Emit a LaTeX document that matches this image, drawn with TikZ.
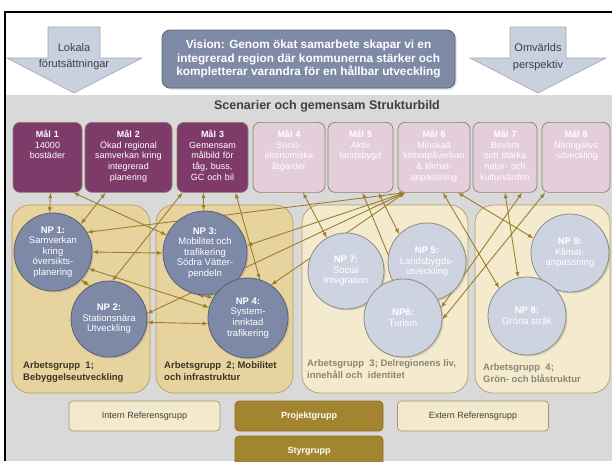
\documentclass[tikz,border=0pt]{standalone}
\usepackage{fontspec}
\setmainfont{Liberation Sans}
\usetikzlibrary{arrows,shadows}
\definecolor{bggray}{HTML}{D9D9D9}
\definecolor{arrowfill}{HTML}{C9D0E0}
\definecolor{arrowline}{HTML}{A6A6A6}
\definecolor{txtgray}{HTML}{3F3F3F}
\definecolor{visionfill}{HTML}{7F8AA7}
\definecolor{visionline}{HTML}{5D6679}
\definecolor{malplum}{HTML}{7E3A68}
\definecolor{malpink}{HTML}{E5CEDB}
\definecolor{malline}{HTML}{8E7E70}
\definecolor{agtan}{HTML}{E7D39E}
\definecolor{agcream}{HTML}{F4EBCF}
\definecolor{agline}{HTML}{B59D62}
\definecolor{npslate}{HTML}{7D89A7}
\definecolor{npslateline}{HTML}{5B6172}
\definecolor{nplight}{HTML}{CDD3E1}
\definecolor{nplightline}{HTML}{8F8D7E}
\definecolor{conline}{HTML}{9C7F2C}
\definecolor{refcream}{HTML}{F3E9CD}
\definecolor{refline}{HTML}{A89467}
\definecolor{projgold}{HTML}{A3842F}
\definecolor{projline}{HTML}{8C7028}
\definecolor{agdarktext}{HTML}{3C3527}
\definecolor{aglighttext}{HTML}{8C8574}
\pgfdeclarelayer{back}
\pgfdeclarelayer{links}
\pgfsetlayers{back,links,main}

\begin{document}
\begin{tikzpicture}[x=1pt,y=-1pt,>=latex,
        bigarrow/.style={fill=arrowfill, draw=arrowline, line width=0.6pt},
        arrowtext/.style={text=txtgray, font=\fontsize{11}{13}\selectfont},
        visionbox/.style={rectangle, rounded corners=8pt, draw=visionline, fill=visionfill, line width=0.8pt, text=white, align=center, font=\bfseries\fontsize{11.8}{13.6}\selectfont, minimum width=293pt, minimum height=58pt, drop shadow={opacity=0.3, shadow xshift=1.5pt, shadow yshift=-1.5pt}},
        malbox/.style={rectangle, rounded corners=7pt, draw=malline, line width=0.7pt, anchor=north, minimum width=#1pt, text width=#1pt-4pt, minimum height=70pt, inner xsep=1pt, inner ysep=3pt, text height=12pt, text depth=52pt, align=center, text=white, font=\fontsize{9}{10.8}\selectfont},
        malplumbox/.style={malbox=#1, fill=malplum},
        malpinkbox/.style={malbox=#1, fill=malpink},
        agpanel/.style={rectangle, rounded corners=18pt, draw=agline, line width=0.7pt, minimum height=188pt},
        aglabel/.style={anchor=north west, align=left, inner sep=0pt, font=\bfseries\fontsize{9.5}{12}\selectfont},
        npdark/.style={circle, draw=npslateline, fill=npslate, line width=0.8pt, inner sep=0pt, align=center, text=white, font=\fontsize{9.5}{10.6}\selectfont, drop shadow={opacity=0.3, shadow xshift=1.5pt, shadow yshift=-1.5pt}},
        nplight/.style={npdark, draw=nplightline, fill=nplight},
        refbox/.style={rectangle, rounded corners=4pt, draw=refline, line width=0.7pt, fill=refcream, text=txtgray, minimum width=151pt, minimum height=30pt, font=\fontsize{9}{11}\selectfont},
        projbox/.style={refbox, draw=projline, fill=projgold, text=white, minimum width=148pt, font=\bfseries\fontsize{9}{11}\selectfont},
        con/.style={<->, draw=conline, line width=0.9pt}]
        \useasboundingbox (0,0) rectangle (612,461);
        \begin{pgfonlayer}{back}
        \fill[white] (0,0) rectangle (612,461);
        \fill[bggray] (5,95) rectangle (612,461);
        \draw[line width=2.5pt] (5,461) -- (5,12) -- (612,12);
        \draw[bigarrow] (48,27) -- (100,27) -- (100,58) -- (142,58) -- (74,93) -- (7,58) -- (48,58) -- cycle;
        \draw[bigarrow] (510,27) -- (566,27) -- (566,58) -- (606,58) -- (538,93) -- (470,58) -- (510,58) -- cycle;
        \node[agpanel, fill=agtan, minimum width=138pt] at (81,299) (ag1) {};
        \node[agpanel, fill=agtan, minimum width=137pt] at (224.5,299) (ag2) {};
        \node[agpanel, fill=agcream, minimum width=166pt] at (385,299) (ag3) {};
        \node[agpanel, fill=agcream, minimum width=135pt] at (542.5,299) (ag4) {};
        \end{pgfonlayer}
        \node[arrowtext] at (74,48) (lokala) {Lokala};
        \node[arrowtext] at (74,65) (forut) {förutsättningar};
        \node[arrowtext] at (538,48) (omvarld) {Omvärlds};
        \node[arrowtext] at (538,66) (persp) {perspektiv};
        \node[visionbox] at (308.5,59) (vision) {Vision: Genom ökat samarbete skapar vi en\\integrerad region där kommunerna stärker och\\kompletterar varandra för en hållbar utveckling};
        \node[text=txtgray, font=\bfseries\fontsize{12.5}{15}\selectfont] at (327,106) (scen) {Scenarier och gemensam Strukturbild};
        \node[malplumbox=69] at (47.5,122) (mal1) {\textbf{Mål 1}\\14000\\bostäder};
        \node[malplumbox=87] at (128.5,122) (mal2) {\textbf{Mål 2}\\Ökad regional\\samverkan kring\\integrerad\\planering};
        \node[malplumbox=71] at (212.5,122) (mal3) {\textbf{Mål 3}\\Gemensam\\målbild för\\tåg, buss,\\GC och bil};
        \node[malpinkbox=72] at (289,122) (mal4) {\textbf{Mål 4}\\Socio-\\ekonomiska\\åtgärder};
        \node[malpinkbox=65] at (360.5,122) (mal5) {\textbf{Mål 5}\\Aktiv\\landsbygd};
        \node[malpinkbox=72] at (434,122) (mal6) {\textbf{Mål 6}\\Minskad\\klimatpåverkan\\\& klimat-\\anpassning};
        \node[malpinkbox=64] at (505,122) (mal7) {\textbf{Mål 7}\\Bevara\\och stärka\\natur- och\\kulturvärden};
        \node[malpinkbox=68] at (576,122) (mal8) {\textbf{Mål 8}\\Näringslivs\\-utveckling};
        \node[npdark, minimum size=78pt] at (53,252) (np1) {\textbf{NP 1:}\\Samverkan\\kring\\översikts-\\planering};
        \node[npdark, minimum size=76pt] at (109,319) (np2) {\textbf{NP 2:}\\Stationsnära\\Utveckling};
        \node[npdark, minimum size=84pt] at (205,253) (np3) {\textbf{NP 3:}\\Mobilitet och\\trafikering\\Södra Vätter-\\pendeln};
        \node[npdark, minimum size=80pt] at (248,318) (np4) {\textbf{NP 4:}\\System-\\inriktad\\trafikering};
        \node[nplight, minimum size=76pt] at (346,271) (np7) {\textbf{NP 7:}\\Social\\Integration};
        \node[nplight, minimum size=78pt] at (427,262) (np5) {\textbf{NP 5:}\\Landsbygds-\\utveckling};
        \node[nplight, minimum size=78pt] at (403,318) (np6) {\textbf{NP6:}\\Turism};
        \node[nplight, minimum size=78pt] at (570,253) (np9) {\textbf{NP 9:}\\Klimat-\\anpassning};
        \node[nplight, minimum size=78pt] at (527,316) (np8) {\textbf{NP 8:}\\Gröna stråk};
        \node[aglabel, text=agdarktext] at (23,361) (lab1) {Arbetsgrupp\ \ 1;\\Bebyggelseutveckling};
        \node[aglabel, text=agdarktext] at (164,361) (lab2) {Arbetsgrupp\ \ 2; Mobilitet\\och infrastruktur};
        \node[aglabel, text=aglighttext] at (307,359) (lab3) {Arbetsgrupp\ \ 3; Delregionens liv,\\innehåll och\ \ identitet};
        \node[aglabel, text=aglighttext] at (483,363) (lab4) {Arbetsgrupp\ \ 4;\\Grön- och blåstruktur};
        \begin{pgfonlayer}{links}
        \draw[con] ([xshift=3pt]mal1.south) -- (np1.95);
        \draw[con] ([xshift=26pt]mal1.south) -- (np3.155);
        \draw[con] ([xshift=-23pt]mal2.south) -- (np1.45);
        \draw[con] ([xshift=-30pt]mal3.south) -- (np2.85);
        \draw[con] ([xshift=-9pt]mal3.south) -- (np3.92);
        \draw[con] ([xshift=23pt]mal3.south) -- (np4.73);
        \draw[con] (np1.30) -- ([xshift=-29pt]mal6.south);
        \draw[con] (np3.10) -- ([xshift=-29pt]mal6.south);
        \draw[con] (np4.55) -- ([xshift=-29pt]mal6.south);
        \draw[con] (np2.8) -- ([xshift=-29pt]mal6.south);
        \draw[con] (np1.east) -- (np3.west);
        \draw[con] (np1.-25) -- (np4.165);
        \draw[con] (np1.-45) -- (np2.120);
        \draw[con] (np2.-5) -- (np4.-172);
        \draw[con] (np3.-100) -- (np4.150);
        \draw[con] ([xshift=14pt]mal4.south) -- (np7.120);
        \draw[con] ([xshift=18pt]mal5.south) -- (np5.135);
        \draw[con] ([xshift=2pt]mal5.south) -- (np6.97);
        \draw[con] ([xshift=9pt]mal6.south) -- (np8.135);
        \draw[con] ([xshift=24pt]mal6.south) -- (np9.158);
        \draw[con] (mal7.south) -- (np8.103);
        \draw[con] ([xshift=17pt]mal7.south) -- (np6.15);
        \draw[con] ([xshift=-31pt]mal8.south) -- (np6.-2);
        \end{pgfonlayer}
        \node[refbox] at (144.5,416) (intern) {Intern Referensgrupp};
        \node[projbox] at (309,416) (proj) {Projektgrupp};
        \node[refbox] at (473,416) (extern) {Extern Referensgrupp};
        \node[projbox] at (309,451) (styr) {Styrgrupp};
\end{tikzpicture}
\end{document}
